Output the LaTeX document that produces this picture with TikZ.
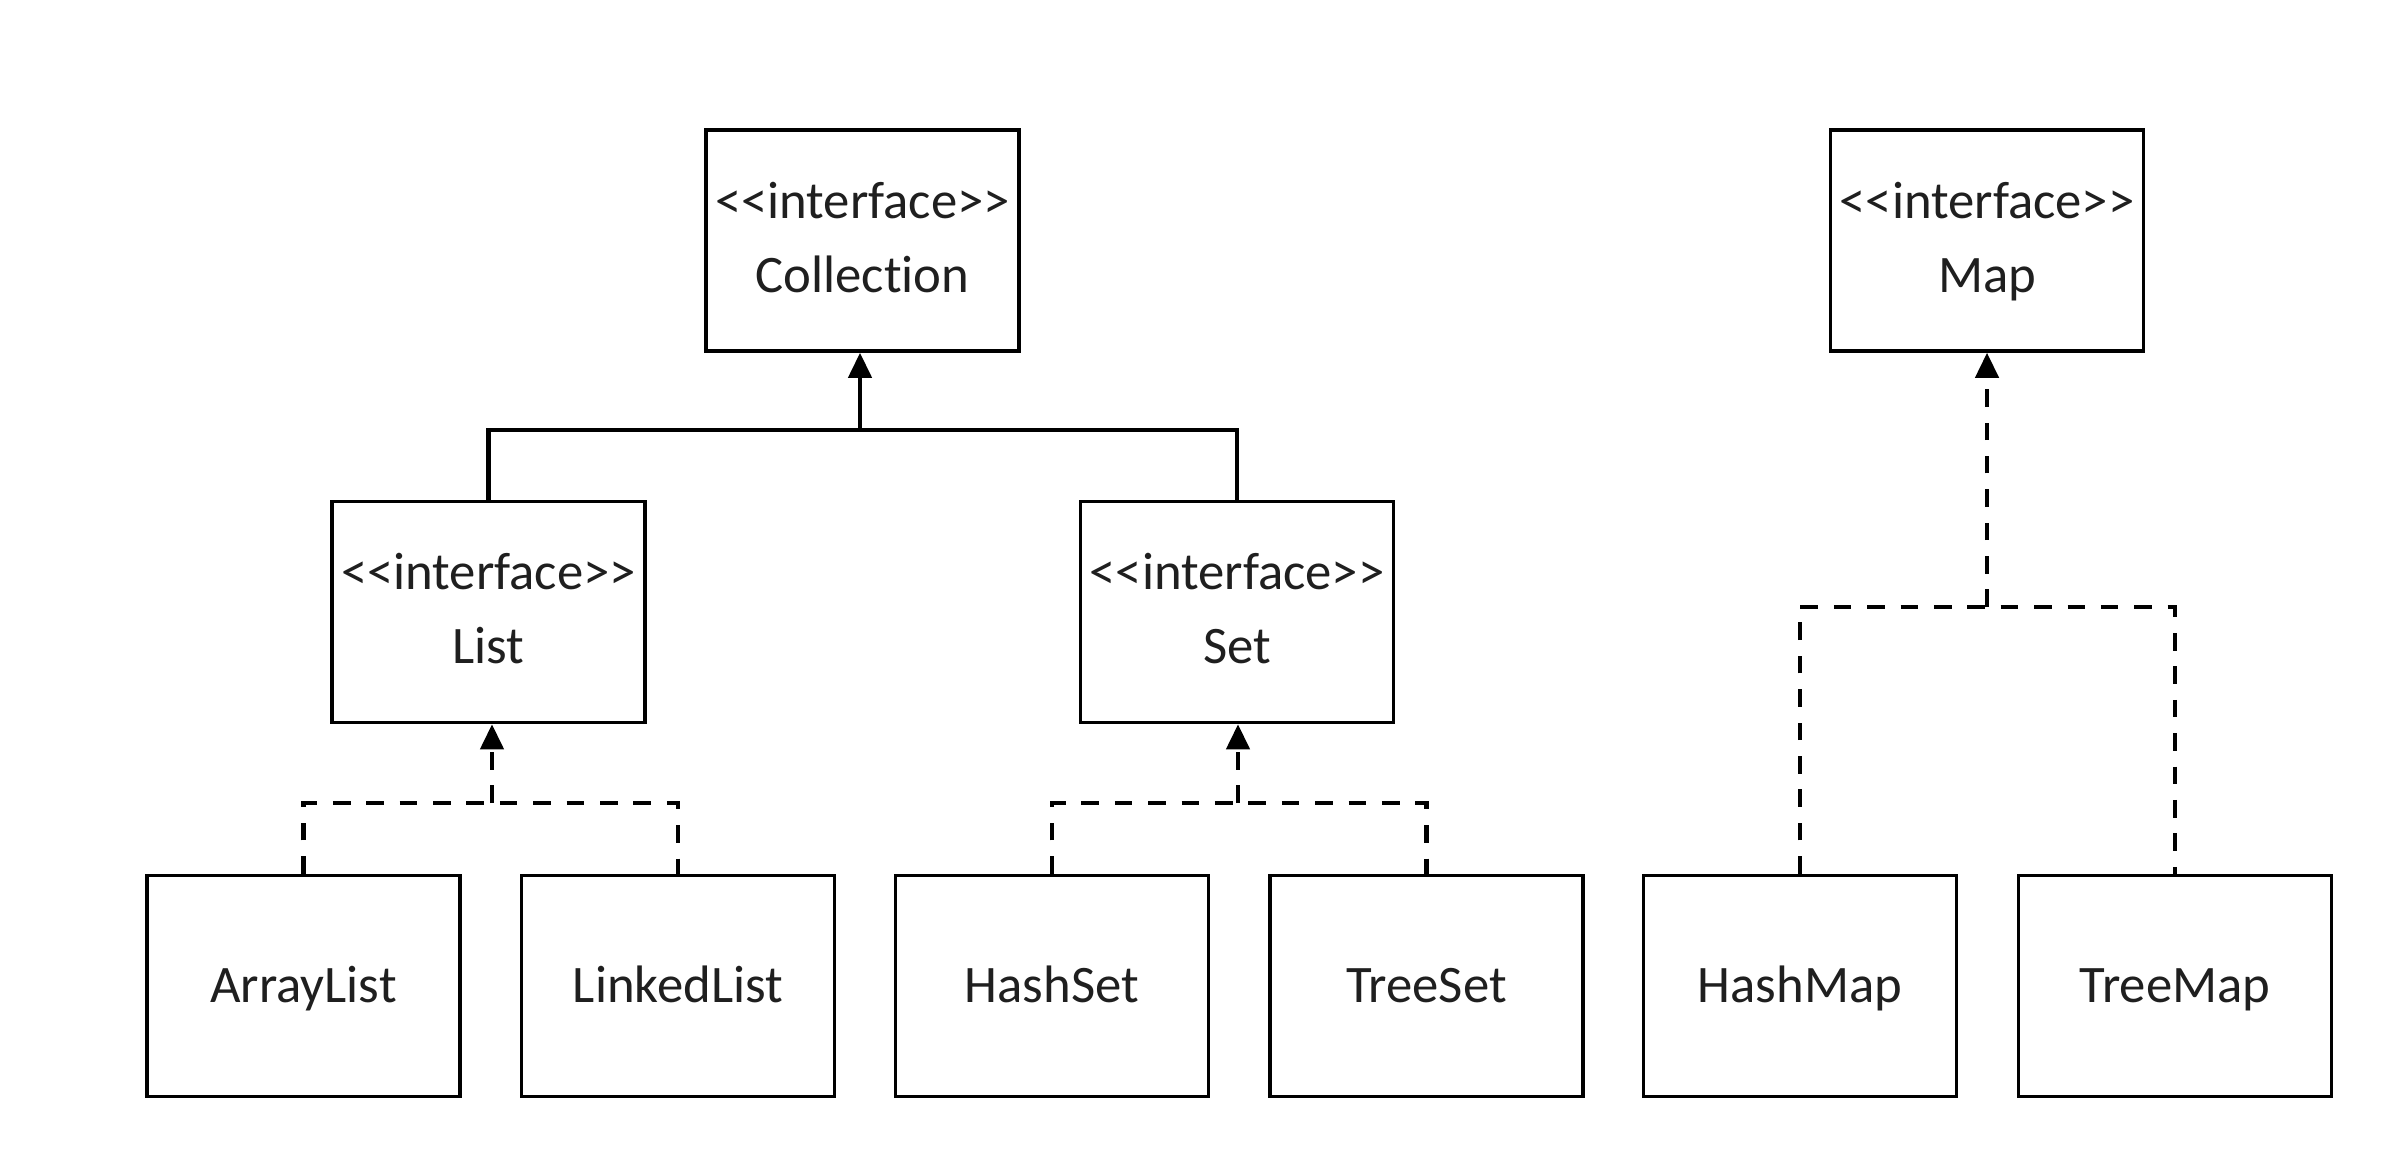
\documentclass[tikz,border=0pt]{standalone}
\usepackage{fontspec}
\setmainfont[Ligatures={NoCommon}]{Carlito}
\usetikzlibrary{arrows.meta}
\newcommand{\stereo}[1]{\strut<\kern0pt<interface>\kern0pt>\\\strut #1}
\begin{document}
\begin{tikzpicture}[x=1cm,y=1cm,
  boxbase/.style={draw=black, line width=1pt, minimum width=3.13cm, minimum height=2.21cm,
    inner sep=0pt, font=\fontsize{15}{21}\selectfont, text=black!88, fill=white},
  ibox/.style={boxbase, align=center},
  cbox/.style={boxbase, text height=9.6pt, text depth=0pt},
  gen/.style={line width=1.2pt, -{Triangle[width=0.23cm,length=0.25cm]}},
  real/.style={gen, dash pattern=on 5pt off 4.5pt},
  conn/.style={line width=1.2pt},
  dconn/.style={conn, dash pattern=on 5pt off 4.5pt}]
\useasboundingbox[fill=white] (0,0) rectangle (24.02,-11.48);

% interface boxes
\node[ibox] (Collection) at (8.625,-2.405) {\stereo{Collection}};
\node[ibox] (Map) at (19.87,-2.405) {\stereo{Map}};
\node[ibox] (List) at (4.885,-6.12) {\stereo{List}};
\node[ibox] (Set) at (12.37,-6.12) {\stereo{Set}};

% classes
\node[cbox] (ArrayList) at (3.035,-9.86) {ArrayList};
\node[cbox] (LinkedList) at (6.78,-9.86) {LinkedList};
\node[cbox] (HashSet) at (10.52,-9.86) {HashSet};
\node[cbox] (TreeSet) at (14.265,-9.86) {TreeSet};
\node[cbox] (HashMap) at (18.00,-9.86) {HashMap};
\node[cbox] (TreeMap) at (21.75,-9.86) {TreeMap};

% junctions
\coordinate (cj) at (8.60,-4.30);
\coordinate (lj) at (4.92,-8.03);
\coordinate (sj) at (12.38,-8.03);
\coordinate (mj) at (19.87,-6.07);

% Collection hierarchy
\draw[conn] (List.north) |- (cj) -| (Set.north);
\draw[gen] (cj) -- (cj |- Collection.south);

% List implementations
\draw[dconn] (ArrayList.north) |- (lj) -| (LinkedList.north);
\draw[real] (lj) -- (lj |- List.south);

% Set implementations
\draw[dconn] (HashSet.north) |- (sj) -| (TreeSet.north);
\draw[real] (sj) -- (sj |- Set.south);

% Map implementations
\draw[dconn] (HashMap.north) |- (mj) -| (TreeMap.north);
\draw[real] (mj) -- (mj |- Map.south);
\end{tikzpicture}
\end{document}
